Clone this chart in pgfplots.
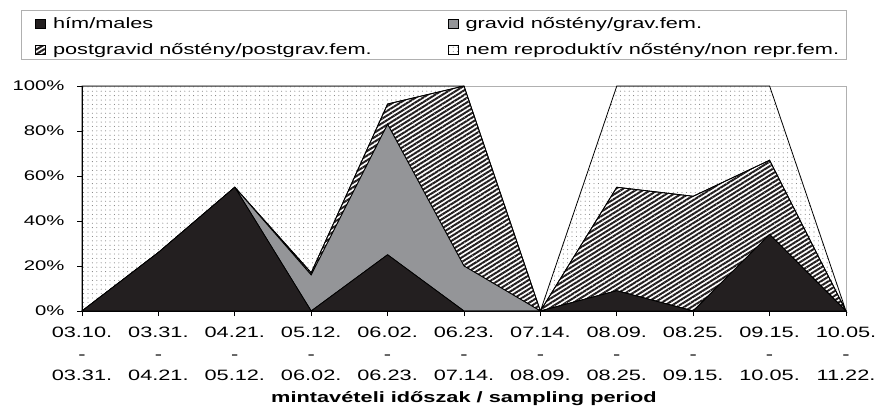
\documentclass[border=0pt]{standalone}
\usepackage{fontspec}
\setmainfont{Liberation Sans}[FakeStretch=1.45]
\usepackage{pgfplots}
\pgfplotsset{compat=1.18}
\usetikzlibrary{patterns.meta}
\definecolor{cblack}{HTML}{231F20}
\definecolor{cgray}{HTML}{949598}
\definecolor{framec}{HTML}{B0B0B0}
\begin{document}
\begin{tikzpicture}
\begin{axis}[
  at={(0pt,0pt)}, anchor=south west,
  scale only axis, width=764pt, height=225pt,
  xmin=0, xmax=10, ymin=0, ymax=100,
  clip=false,
  stack plots=y,
  axis line style={framec, line width=0.8pt},
  xtick={0,...,10},
  xticklabels={{03.10.\\-\\03.31.},{03.31.\\-\\04.21.},{04.21.\\-\\05.12.},{05.12.\\-\\06.02.},{06.02.\\-\\06.23.},{06.23.\\-\\07.14.},{07.14.\\-\\08.09.},{08.09.\\-\\08.25.},{08.25.\\-\\09.15.},{09.15.\\-\\10.05.},{10.05.\\-\\11.22.}},
  xticklabel style={align=center, font=\fontsize{15}{21.5}\selectfont, inner sep=0pt, yshift=-11pt},
  ytick={0,20,40,60,80,100},
  yticklabels={0\%,20\%,40\%,60\%,80\%,100\%},
  yticklabel style={font=\fontsize{14}{16}\selectfont, xshift=-9pt},
  tick align=outside, major tick length=5pt,
  tick style={black, line width=0.8pt},
  xtick pos=bottom, ytick pos=left,
  xlabel={\textbf{mintavételi időszak / sampling period}},
  xlabel style={font=\fontsize{15}{16}\selectfont, inner sep=0pt, yshift=-10pt},
  legend columns=2,
  legend cell align=left,
  legend style={at={(-0.0798,1.3378)}, anchor=north west, draw=none, fill=none,
    font=\fontsize{15}{16}\selectfont,
    row sep=10pt, inner xsep=6pt, inner ysep=5pt,
    /tikz/every even column/.append style={column sep=66pt}},
  legend image code/.code={\path (-8pt,0pt); \draw[#1, line width=0.5pt] (0pt,-4.5pt) rectangle (10pt,4.5pt); \path (15pt,0pt);},
]
\addplot[draw=black, line width=0.8pt, fill=cblack] coordinates
  {(0,0) (1,26) (2,55) (3,0) (4,25) (5,0) (6,0) (7,9) (8,0) (9,34) (10,0)} \closedcycle;
\addlegendentry{hím/males}
\addplot[draw=black, line width=0.8pt, fill=cgray] coordinates
  {(0,0) (1,0) (2,0) (3,16) (4,58) (5,20) (6,0) (7,0) (8,0) (9,0) (10,0)} \closedcycle;
\addlegendentry{gravid nőstény/grav.fem.}
\addplot[draw=black, line width=0.8pt, pattern={Lines[angle=32, distance=3.9pt, line width=2pt]}, pattern color=cblack] coordinates
  {(0,0) (1,0) (2,0) (3,1) (4,9) (5,80) (6,0) (7,46) (8,51) (9,33) (10,0)} \closedcycle;
\addlegendentry{postgravid nőstény/postgrav.fem.}
\addplot[draw=black, line width=0.8pt, pattern={Dots[distance=4.4pt, radius=0.55pt]}, pattern color=black!50] coordinates
  {(0,100) (1,74) (2,45) (3,83) (4,8) (5,0) (6,0) (7,45) (8,49) (9,33) (10,0)} \closedcycle;
\addlegendentry{nem reproduktív nőstény/non repr.fem.}
\draw[black, line width=0.9pt] (rel axis cs:0,1) -- (rel axis cs:0,0) -- (rel axis cs:1,0);
\draw[framec, line width=0.8pt] (rel axis cs:-0.0798,1.3378) rectangle (rel axis cs:1,1.12);
\end{axis}
\pgfresetboundingbox
\useasboundingbox (-82pt,-97pt) rectangle (802pt,311pt);
\end{tikzpicture}
\end{document}
